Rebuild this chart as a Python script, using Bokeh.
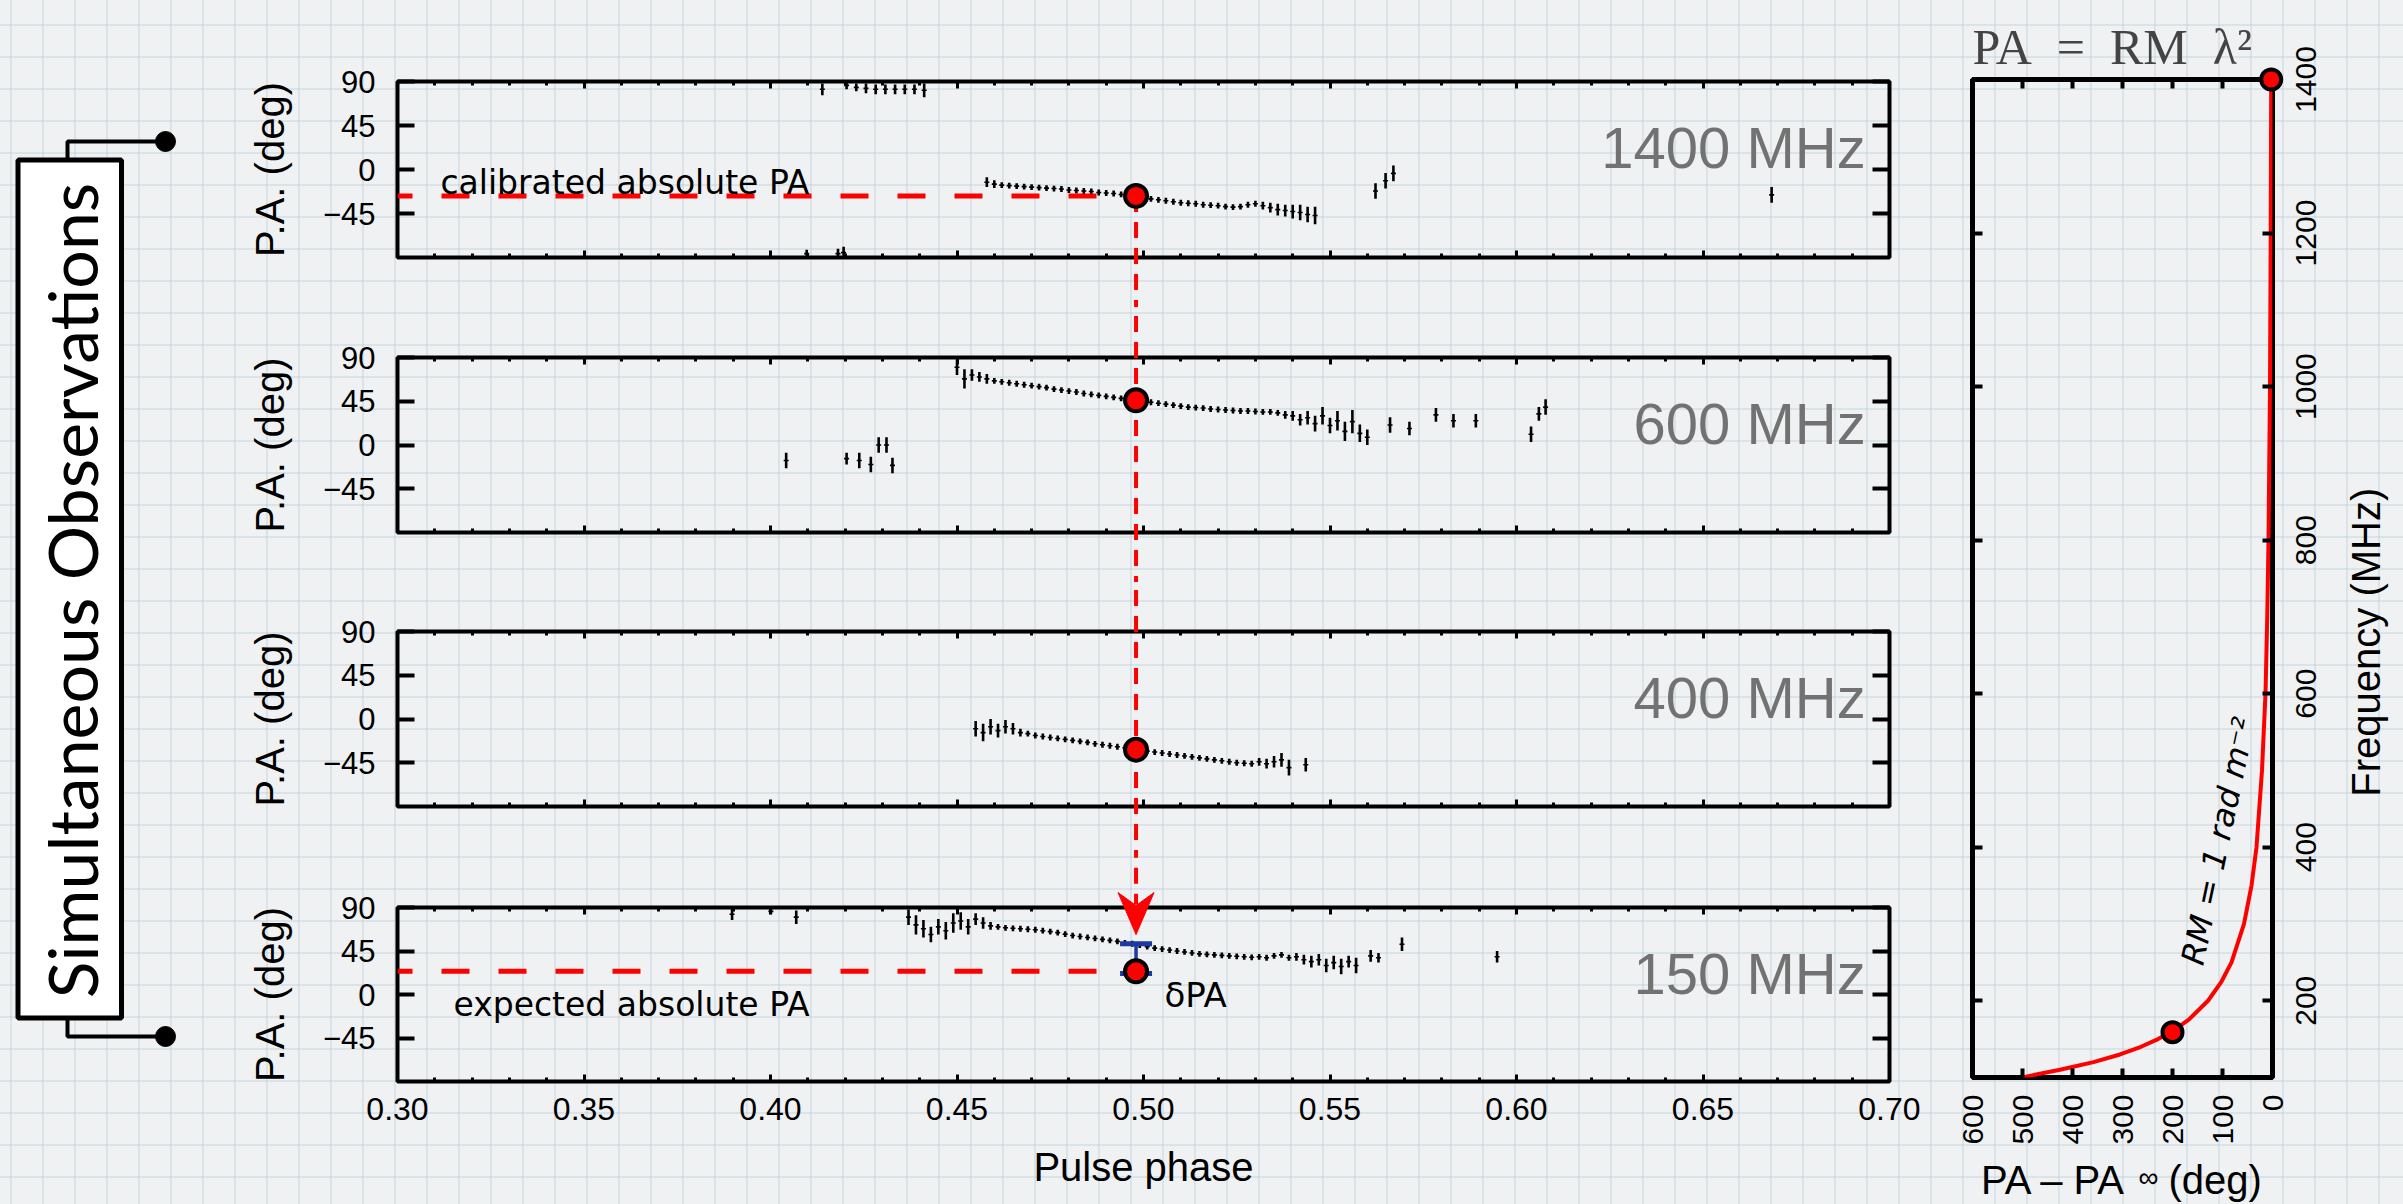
import math
from bokeh.plotting import figure
from bokeh.models import (Range1d, LinearAxis, FixedTicker, PrintfTickFormatter, ColumnDataSource)
from bokeh.layouts import row, column
from bokeh.embed import file_html
from bokeh.resources import INLINE
from bokeh.core.properties import value

# ---------------------------------------------------------------- data
PHASE_TICKS = [0.30, 0.35, 0.40, 0.45, 0.50, 0.55, 0.60, 0.65, 0.70]
PHASE_MINOR = [0.31, 0.32, 0.33, 0.34, 0.36, 0.37, 0.38, 0.39, 0.41, 0.42, 0.43, 0.44,
               0.46, 0.47, 0.48, 0.49, 0.51, 0.52, 0.53, 0.54, 0.56, 0.57, 0.58, 0.59,
               0.61, 0.62, 0.63, 0.64, 0.66, 0.67, 0.68, 0.69]
PA_TICKS = [-45, 0, 45, 90]
FREQ_TICKS = [200, 400, 600, 800, 1000, 1200, 1400]
FREQ_LABELS = ["200", "400", "600", "800", "1000", "1200", "1400"]
DPA_TICKS = [0, 100, 200, 300, 400, 500, 600]
BANDS = ["1400 MHz", "600 MHz", "400 MHz", "150 MHz"]

REF_PHASE = 0.498
REF_PA = [-27, 46, -31.5, 24]        # red markers in each panel
DPA_BAR = [21.6, 52.5]               # 150 MHz: expected vs observed PA
ARROW_TIP = 62

# 1400 MHz
P1_PH = [0.4097, 0.4139, 0.4181, 0.4196, 0.4204, 0.4230, 0.4256, 0.4282, 0.4308, 0.4334, 0.4360, 0.4386, 0.4412,
         0.458, 0.460, 0.462, 0.464, 0.466, 0.468, 0.470, 0.472, 0.474, 0.476,
         0.478, 0.480, 0.482, 0.484, 0.486, 0.488, 0.490, 0.492, 0.494, 0.496,
         0.498, 0.500, 0.502, 0.504, 0.506, 0.508, 0.510, 0.512, 0.514, 0.516,
         0.518, 0.520, 0.522, 0.524, 0.526, 0.528, 0.530, 0.532, 0.534, 0.536,
         0.538, 0.540, 0.542, 0.544, 0.546,
         0.5622, 0.5649, 0.5670, 0.6684]
P1_PA = [-86, 82, -86, -85, 86, 84, 83, 82, 82, 82, 82, 82, 81,
         -13, -15, -16, -16.5, -17, -17.5, -18, -18.5, -19, -19.5,
         -20, -21, -21.5, -22, -22.5, -23.5, -24, -24.5, -25.5, -26.5,
         -27.5, -28.5, -30, -31, -32, -33, -34, -34.5, -35, -36,
         -36.5, -37, -38, -38.5, -38, -36, -35, -37, -39, -41,
         -42, -43, -44, -46, -47,
         -22, -11.5, -4, -26]
P1_ER = [4, 6, 5, 6, 4, 4, 5, 5, 5, 5, 5, 5, 7,
         5, 4, 3, 3, 3, 3, 3, 3, 3, 3,
         3, 3, 3, 3, 3, 3, 3, 3, 3, 3,
         3, 3, 3, 3, 3, 3, 3, 3, 3, 3,
         3, 3, 3, 3, 3, 3, 3, 4, 5, 6,
         6, 7, 8, 8, 9,
         8, 8, 8, 8]

# 600 MHz
P2_PH = [0.4042, 0.4204, 0.4238, 0.4269, 0.4290, 0.4311, 0.4327,
         0.450, 0.452, 0.454, 0.456, 0.458, 0.460, 0.462, 0.464, 0.466, 0.468,
         0.470, 0.472, 0.474, 0.476, 0.478, 0.480, 0.482, 0.484, 0.486, 0.488,
         0.490, 0.492, 0.494, 0.496, 0.498, 0.500, 0.502, 0.504, 0.506, 0.508,
         0.510, 0.512, 0.514, 0.516, 0.518, 0.520, 0.522, 0.524, 0.526, 0.528,
         0.530, 0.532, 0.534, 0.536, 0.538, 0.540, 0.542, 0.544, 0.546, 0.548,
         0.550, 0.552, 0.554, 0.556, 0.558, 0.560,
         0.5661, 0.5713, 0.5784, 0.5831, 0.5891, 0.6039, 0.6060, 0.6078]
P2_PA = [-16, -14, -16, -20, 0, 0, -21,
         80, 68, 72, 70, 68, 66, 65, 64, 63, 62,
         61, 60, 59, 57.5, 56.5, 55.5, 54.5, 53, 52, 51,
         50, 49, 48, 47, 46, 45, 44, 43, 42, 41,
         40, 39, 38.5, 38, 37, 36.5, 36, 35.5, 35, 35,
         34.5, 34, 34, 33, 31, 30, 26, 28, 22, 30,
         20, 25, 14, 24, 12, 8,
         20.5, 17, 31, 25, 25, 11, 32, 39]
P2_ER = [8, 6, 8, 8, 8, 8, 8,
         8, 10, 6, 5, 5, 3, 3, 3, 3, 3,
         3, 3, 3, 3, 3, 3, 3, 3, 3, 3,
         3, 3, 3, 3, 3, 3, 3, 3, 3, 3,
         3, 3, 3, 3, 3, 3, 3, 3, 3, 3,
         3, 3, 3, 3, 4, 5, 6, 7, 8, 9,
         8, 10, 10, 12, 9, 8,
         8, 7, 7, 7, 7, 8, 7, 8]

# 400 MHz
P3_PH = [0.455, 0.457, 0.459, 0.461, 0.463, 0.465, 0.467, 0.469, 0.471, 0.473,
         0.475, 0.477, 0.479, 0.481, 0.483, 0.485, 0.487, 0.489, 0.491, 0.493,
         0.495, 0.497, 0.499, 0.501, 0.503, 0.505, 0.507, 0.509, 0.511, 0.513,
         0.515, 0.517, 0.519, 0.521, 0.523, 0.525, 0.527, 0.529, 0.531, 0.533,
         0.535, 0.537, 0.539,
         0.5435, 0.6767]
P3_PA = [-10, -14, -8, -12, -8, -10, -14, -15, -17, -18,
         -19, -20, -21, -22, -23, -24, -25.5, -26.5, -27.5, -28.5,
         -29.5, -30.5, -32, -33, -34, -35, -36, -37, -38, -39,
         -40, -41, -42, -43, -44, -45, -45.5, -46, -44, -46,
         -44, -42, -50,
         -47, 23]
P3_ER = [8, 9, 8, 7, 7, 6, 4, 3, 3, 3,
         3, 3, 3, 3, 3, 3, 3, 3, 3, 3,
         3, 3, 3, 3, 3, 3, 3, 3, 3, 3,
         3, 3, 3, 3, 3, 3, 3, 3, 4, 5,
         6, 7, 8,
         7, 7]

# 150 MHz
P4_PH = [0.3897, 0.4001, 0.4069,
         0.437, 0.439, 0.441, 0.443, 0.445, 0.447, 0.449, 0.451, 0.453, 0.455,
         0.457, 0.459, 0.461, 0.463, 0.465, 0.467, 0.469, 0.471, 0.473, 0.475,
         0.477, 0.479, 0.481, 0.483, 0.485, 0.487, 0.489, 0.491, 0.493, 0.495,
         0.497, 0.499, 0.501, 0.503, 0.505, 0.507, 0.509, 0.511, 0.513, 0.515,
         0.517, 0.519, 0.521, 0.523, 0.525, 0.527, 0.529, 0.531, 0.533, 0.535,
         0.537, 0.539, 0.541, 0.543, 0.545, 0.547, 0.549, 0.551, 0.553, 0.555,
         0.557,
         0.5609, 0.5630, 0.5693, 0.5948]
P4_PA = [83, 86, 80,
         80, 72, 68, 62, 70, 66, 74, 76, 70, 78,
         74, 71, 70, 69, 68.5, 68, 67.5, 67, 66, 65,
         64, 62.5, 61, 60, 59, 58, 57, 56, 55, 53.5,
         52.5, 51, 49.5, 48, 47, 46, 45, 44, 43, 42,
         41.5, 41, 40.5, 40, 39.5, 39, 38.5, 39, 38, 40,
         41, 38, 39, 36, 34, 36, 30, 33, 29, 34,
         30,
         40, 38, 52, 39]
P4_ER = [6, 3, 7,
         8, 10, 9, 8, 8, 9, 10, 9, 8, 6,
         6, 4, 3, 3, 3, 3, 3, 3, 3, 3,
         3, 3, 3, 3, 3, 3, 3, 3, 3, 3,
         3, 3, 3, 3, 3, 3, 3, 3, 3, 3,
         3, 3, 3, 3, 3, 3, 3, 3, 3, 3,
         3, 3, 4, 5, 6, 6, 7, 7, 8, 6,
         8,
         6, 5, 7, 6]

# PA = RM lambda^2 curve (RM = 1 rad m^-2)
RM_FREQ = [100, 105, 110, 120, 130, 140, 150, 160, 175, 200, 225, 250, 300, 350,
           400, 500, 600, 700, 800, 1000, 1200, 1400]
RM_DPA = [500, 465, 425, 358, 305, 263, 229, 201, 168, 129, 102, 82, 57, 42,
          32, 21, 14, 10.5, 8, 5, 3.6, 2.6]
RM_MARK_FREQ = [159, 1400]
RM_MARK_DPA = [200, 2.6]

# ---------------------------------------------------------------- style helpers
SANS = "Liberation Sans"
GEO = "DejaVu Sans"
PAPER = {
    "background-color": "#eff1f2",
    "background-image": ("linear-gradient(to bottom, rgba(185,205,218,0.40) 2px, transparent 2px), "
                         "linear-gradient(to right, rgba(185,205,218,0.40) 2px, transparent 2px)"),
    "background-size": "32px 32px",
    "background-position": "10px 24px",
}


def base_axis(ax):
    ax.axis_line_color = None
    ax.major_tick_out = 0
    ax.minor_tick_out = 0
    ax.major_tick_line_color = "black"
    ax.minor_tick_line_color = "black"
    ax.major_label_text_font = SANS
    ax.major_label_text_color = "black"
    ax.axis_label_text_font = SANS
    ax.axis_label_text_font_style = "normal"
    ax.axis_label_text_color = "black"


def blank_labels(ax, ticks):
    ax.major_label_overrides = {t: "" for t in ticks}
    ax.major_label_text_font_size = "0px"
    ax.major_label_standoff = 0


def make_panel(k, ph, pa, er, height, top_b, bottom_b, last):
    p = figure(width=1720, height=height, x_range=Range1d(0.30, 0.70), y_range=Range1d(-90, 90),
               output_backend="svg", toolbar_location=None,
               x_axis_location=None, y_axis_location=None,
               min_border_left=197, min_border_right=31,
               min_border_top=top_b, min_border_bottom=bottom_b)
    p.background_fill_color = None
    p.border_fill_color = None
    p.outline_line_color = "black"
    p.outline_line_width = 4
    p.grid.visible = False

    for side in ("left", "right"):
        ax = LinearAxis(ticker=FixedTicker(ticks=PA_TICKS))
        base_axis(ax)
        ax.major_tick_in = 17
        ax.major_tick_line_width = 4
        ax.minor_tick_line_color = None
        if side == "left":
            ax.major_label_text_font_size = "31px"
            ax.major_label_standoff = 22
            ax.axis_label = "P.A. (deg)"
            ax.axis_label_text_font_size = "40px"
            ax.axis_label_standoff = 28
        else:
            blank_labels(ax, PA_TICKS)
        p.add_layout(ax, side)

    for side in ("above", "below"):
        ax = LinearAxis(ticker=FixedTicker(ticks=PHASE_TICKS, minor_ticks=PHASE_MINOR),
                        formatter=PrintfTickFormatter(format="%.2f"))
        base_axis(ax)
        ax.major_tick_in = 7
        ax.minor_tick_in = 4
        ax.major_tick_line_width = 3
        ax.minor_tick_line_width = 3
        if side == "below" and last:
            ax.major_label_text_font_size = "32px"
            ax.major_label_standoff = 16
            ax.axis_label = "Pulse phase"
            ax.axis_label_text_font_size = "40px"
            ax.axis_label_standoff = 22
        else:
            blank_labels(ax, PHASE_TICKS)
        p.add_layout(ax, side)

    src = ColumnDataSource(dict(x=ph, y=pa,
                                lo=[a - e for a, e in zip(pa, er)],
                                hi=[a + e for a, e in zip(pa, er)]))
    p.segment(x0="x", y0="lo", x1="x", y1="hi", source=src, line_color="black", line_width=2.6)
    p.scatter(x="x", y="y", source=src, marker="dash", size=5, line_color="black", line_width=1.6)

    p.text(x=[0.6936], y=[22], text=[BANDS[k]], text_align="right", text_baseline="alphabetic",
           text_font=value(SANS), text_font_size="58px", text_color="#727272")
    return p


p1 = make_panel(0, P1_PH, P1_PA, P1_ER, 307, 81, 50, False)
p2 = make_panel(1, P2_PH, P2_PA, P2_ER, 275, 50, 50, False)
p3 = make_panel(2, P3_PH, P3_PA, P3_ER, 274, 49, 50, False)
p4 = make_panel(3, P4_PH, P4_PA, P4_ER, 348, 51, 123, True)

DASH_V = dict(line_color="red", line_width=4, line_dash="16 10", level="overlay")
DASH_H = dict(line_color="red", line_width=5, line_dash="28 29", line_dash_offset=13)

# pixel -> data sizes in the 150 MHz panel (frame 1492 x 174 px), used for the arrow head
PX_X = 0.40 / 1492
PX_Y = 180.0 / 174

# calibrated absolute PA (1400 MHz)
p1.segment(x0=[PHASE_TICKS[0]], y0=[REF_PA[0]], x1=[REF_PHASE], y1=[REF_PA[0]], **DASH_H)
p1.text(x=[0.3115], y=[-13], text=["calibrated absolute PA"], text_font=value(GEO),
        text_font_size="33px", text_baseline="alphabetic", text_color="black")
p1.segment(x0=[REF_PHASE], y0=[REF_PA[0]], x1=[REF_PHASE], y1=[-400], **DASH_V)
p2.segment(x0=[REF_PHASE], y0=[400], x1=[REF_PHASE], y1=[-400], **DASH_V)
p3.segment(x0=[REF_PHASE], y0=[400], x1=[REF_PHASE], y1=[-400], **DASH_V)
p4.segment(x0=[REF_PHASE], y0=[400], x1=[REF_PHASE], y1=[ARROW_TIP + 30 * PX_Y], **DASH_V)
p4.patch(x=[REF_PHASE, REF_PHASE - 18 * PX_X, REF_PHASE, REF_PHASE + 18 * PX_X],
         y=[ARROW_TIP, ARROW_TIP + 42 * PX_Y, ARROW_TIP + 29 * PX_Y, ARROW_TIP + 42 * PX_Y],
         fill_color="red", line_color="red", line_width=1, level="overlay")

# expected absolute PA (150 MHz)
p4.segment(x0=[PHASE_TICKS[0]], y0=[REF_PA[3]], x1=[REF_PHASE], y1=[REF_PA[3]], **DASH_H)
p4.text(x=[0.315], y=[-10], text=["expected absolute PA"], text_font=value(GEO),
        text_font_size="33px", text_baseline="alphabetic", text_color="black")
p4.segment(x0=[REF_PHASE], y0=[DPA_BAR[0]], x1=[REF_PHASE], y1=[DPA_BAR[1]],
           line_color="#1c3aa0", line_width=3.5)
p4.scatter(x=[REF_PHASE, REF_PHASE], y=DPA_BAR, marker="dash", size=32,
           line_color="#1c3aa0", line_width=5)
p4.text(x=[0.5056], y=[-1], text=["δPA"], text_font=value(GEO), text_font_size="34px",
        text_baseline="alphabetic", text_color="black")

for p, pa in zip((p1, p2, p3, p4), REF_PA):
    p.scatter(x=[REF_PHASE], y=[pa], size=22, fill_color="red", line_color="black",
              line_width=4, level="overlay")

# ---------------------------------------------------------------- right panel
pr = figure(width=483, height=1204, x_range=Range1d(600, 0), y_range=Range1d(100, 1400),
            output_backend="svg", toolbar_location=None,
            x_axis_location=None, y_axis_location=None,
            min_border_left=52, min_border_right=131, min_border_top=79, min_border_bottom=127,
            title="PA\u2002=\u2002RM\u2002λ²")
pr.background_fill_color = None
pr.border_fill_color = None
pr.outline_line_color = "black"
pr.outline_line_width = 5
pr.grid.visible = False
pr.title.text_font = "Liberation Serif"
pr.title.text_font_size = "50px"
pr.title.text_font_style = "normal"
pr.title.align = "left"
pr.title.standoff = 10

for side in ("above", "below"):
    ax = LinearAxis(ticker=FixedTicker(ticks=DPA_TICKS))
    base_axis(ax)
    ax.major_tick_in = 9
    ax.major_tick_line_width = 4
    ax.minor_tick_line_color = None
    if side == "below":
        ax.major_label_orientation = math.pi / 2
        ax.major_label_text_font_size = "30px"
        ax.major_label_standoff = 17
        ax.axis_label = "PA – PA\u00a0\u00a0\u00a0\u00a0(deg)"
        ax.axis_label_text_font_size = "40px"
        ax.axis_label_standoff = 10
    else:
        blank_labels(ax, DPA_TICKS)
    pr.add_layout(ax, side)

for side in ("left", "right"):
    ax = LinearAxis(ticker=FixedTicker(ticks=FREQ_TICKS))
    base_axis(ax)
    ax.major_tick_in = 10
    ax.major_tick_line_width = 4
    ax.minor_tick_line_color = None
    blank_labels(ax, FREQ_TICKS)
    pr.add_layout(ax, side)

# frequency tick labels and axis title, reading bottom-to-top, right of the frame
pr.text(x=[-66] * len(FREQ_TICKS), y=FREQ_TICKS, text=FREQ_LABELS, angle=math.pi / 2,
        text_align="center", text_baseline="middle", text_font=value(SANS),
        text_font_size="30px", text_color="black", level="overlay")
pr.text(x=[-186], y=[667], text=["Frequency (MHz)"], angle=math.pi / 2,
        text_align="center", text_baseline="middle", text_font=value(SANS),
        text_font_size="40px", text_color="black", level="overlay")
pr.text(x=[248], y=[-30], text=["∞"], text_align="center", text_baseline="middle",
        text_font=value(SANS), text_font_size="28px", text_color="black", level="overlay")

pr.line(x=RM_DPA, y=RM_FREQ, line_color="red", line_width=4)
pr.scatter(x=RM_MARK_DPA, y=RM_MARK_FREQ, size=20, fill_color="red", line_color="black",
           line_width=4, level="overlay")
pr.text(x=[108], y=[408], text=["RM = 1 rad m⁻²"], angle=math.radians(78),
        text_align="center", text_baseline="middle", text_font=value(GEO),
        text_font_style="italic", text_font_size="32px", text_color="black")

# ---------------------------------------------------------------- left decoration
# same vertical borders as the right panel so the row keeps its frame aligned;
# the y range is then in page pixels (top = 79, bottom = 1077)
pd = figure(width=200, height=1204, x_range=Range1d(0, 200), y_range=Range1d(1077, 79),
            output_backend="svg", toolbar_location=None,
            min_border_left=0, min_border_right=0, min_border_top=79, min_border_bottom=127,
            x_axis_location=None, y_axis_location=None)
pd.background_fill_color = None
pd.border_fill_color = None
pd.outline_line_color = None
pd.grid.visible = False
pd.multi_line(xs=[[67, 67, 165], [67, 67, 165]], ys=[[159.5, 141, 141], [1017.5, 1036, 1036]],
              line_color="black", line_width=4)
pd.scatter(x=[165, 165], y=[141, 1036], size=20, fill_color="black", line_color="black")
pd.quad(left=[17.5], right=[121], top=[159.5], bottom=[1017.5], fill_color="white",
        line_color="black", line_width=5)
pd.text(x=[71], y=[590], text=["Simultaneous Observations"], angle=math.pi / 2,
        text_align="center", text_baseline="middle", text_font=value("Lato"),
        text_font_size="68px", text_color="black")

layout = row(pd, column(p1, p2, p3, p4), pr, styles=PAPER)

open("out.html", "w").write(file_html(layout, INLINE))
